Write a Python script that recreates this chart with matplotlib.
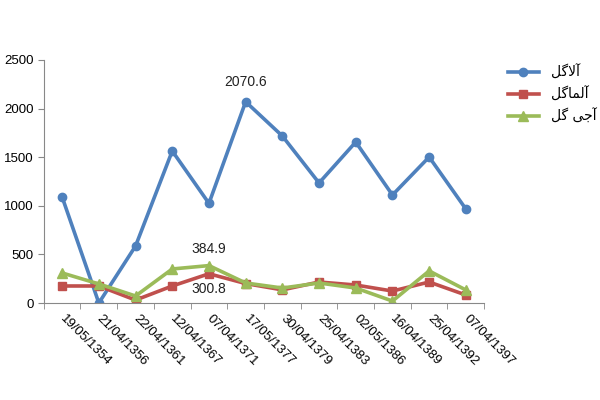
import numpy as np
import matplotlib
matplotlib.use('Agg')
import matplotlib.pyplot as plt

# ------------------------------------------------------------------
# data
# ------------------------------------------------------------------
dates = ['19/05/1354', '21/04/1356', '22/04/1361', '12/04/1367',
         '07/04/1371', '17/05/1377', '30/04/1379', '25/04/1383',
         '02/05/1386', '16/04/1389', '25/04/1392', '07/04/1397']
alagol = [1090, 0, 586, 1564, 1025, 2070.6, 1718, 1235, 1656, 1111, 1502, 967]
almagol = [175, 175, 30, 175, 300.8, 200, 135, 216, 185, 123, 216, 82]
ajigol = [309, 196, 72, 350, 384.9, 206, 154, 206, 154, 20, 330, 134]

# legend labels, pre-shaped (presentation forms, visual order)
lab_alagol = '\uFEDE\uFB94\uFEFB\uFE81'              # آلاگل
lab_almagol = '\uFEDE\uFB94\uFE8E\uFEE4\uFEDF\uFE81'  # آلماگل
lab_ajigol = '\uFEDE\uFB94 \uFBFD\uFE9F\uFE81'        # آجی گل

plt.rcParams['font.family'] = ['Liberation Sans', 'DejaVu Sans']

fig = plt.figure(figsize=(6, 4), dpi=100)
ax = fig.add_axes([0.073, 0.2425, 0.734, 0.6075])

x = np.arange(len(dates))
l1, = ax.plot(x, alagol, '-o', color='#4F81BD', lw=2.6, ms=6, label=lab_alagol)
l2, = ax.plot(x, almagol, '-s', color='#C0504D', lw=2.6, ms=5.5, label=lab_almagol)
l3, = ax.plot(x, ajigol, '-^', color='#9BBB59', lw=2.6, ms=6.5, label=lab_ajigol)

# data labels
ax.annotate('2070.6', (5, alagol[5]), xytext=(0, 9), textcoords='offset points',
            ha='center', va='bottom', fontsize=10, color='#222222')
ax.annotate('384.9', (4, ajigol[4]), xytext=(0, 7), textcoords='offset points',
            ha='center', va='bottom', fontsize=10, color='#222222')
ax.annotate('300.8', (4, almagol[4]), xytext=(0, -6), textcoords='offset points',
            ha='center', va='top', fontsize=10, color='#222222')

ax.set_xlim(-0.5, len(dates) - 0.5)
ax.set_ylim(0, 2500)
ax.set_yticks([0, 500, 1000, 1500, 2000, 2500])

ax.set_xticks(x)
ax.set_xticklabels(dates, rotation=-45, rotation_mode='anchor', ha='left', va='center')
ax.set_xticks(np.arange(-0.5, len(dates)), minor=True)
ax.tick_params(axis='x', which='major', length=0, pad=10, labelsize=9.5)
ax.tick_params(axis='x', which='minor', length=4, color='#888888')
ax.tick_params(axis='y', length=4, color='#888888', labelsize=9.5)

for s in ['top', 'right']:
    ax.spines[s].set_visible(False)
for s in ['left', 'bottom']:
    ax.spines[s].set_color('#888888')

leg = fig.legend(handles=[l1, l2, l3], loc='upper left', bbox_to_anchor=(0.825, 0.87),
                 frameon=False, handlelength=2.3, labelspacing=0.5,
                 prop={'family': 'DejaVu Sans', 'size': 10})

plt.savefig('out.png', dpi=100)
